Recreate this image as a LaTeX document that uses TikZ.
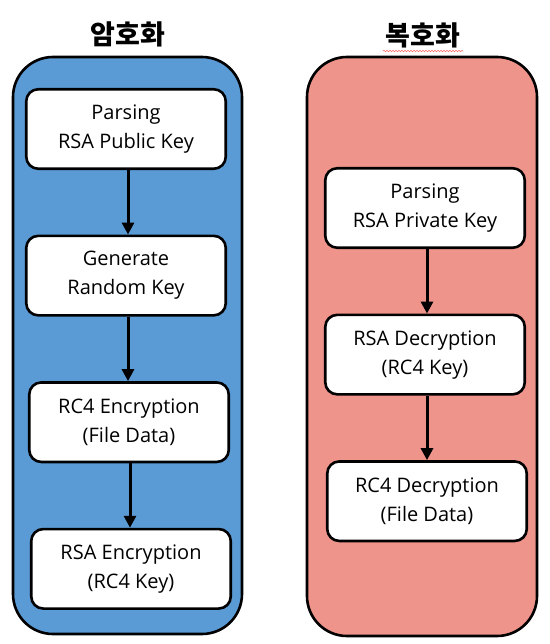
\documentclass[tikz,border=0pt]{standalone}
\usepackage{fontspec}
\setmainfont{Open Sans}
\newfontfamily\krfont{Noto Sans CJK KR}
\usetikzlibrary{positioning,arrows.meta,decorations.pathmorphing}
\definecolor{encblue}{HTML}{5B9BD5}
\definecolor{decred}{HTML}{EF948B}
\tikzset{
  stepbox/.style={draw=black,line width=2.6pt,fill=white,rounded corners=12pt,
    minimum width=199.5pt,minimum height=79.5pt,align=center,
    font=\fontsize{20}{29}\selectfont},
  panel/.style={draw=black,line width=2.6pt,rounded corners=40pt},
  title/.style={font=\krfont\bfseries\fontsize{27}{30}\selectfont},
  flow/.style={-{Triangle[length=12pt,width=12pt]},line width=3pt}
}

\begin{document}
\begin{tikzpicture}[x=1pt,y=-1pt]
                   \useasboundingbox (0,0) rectangle (549,644);
                   \draw[panel,fill=encblue] (13,57) rectangle (242,634);
                   \draw[panel,fill=decred] (307,57) rectangle (537,636);
                   \node[title] (enc) at (128,34) {암호화};
                   \node[title] (dec) at (423,35) {복호화};
                   \draw[red!60,line width=0.6pt,decorate,decoration={snake,amplitude=0.7pt,segment length=3pt}]
                        ([xshift=-40pt,yshift=-16pt]dec.center) -- ([xshift=40pt,yshift=-16pt]dec.center);
                   \node[stepbox] (enc_1) at (126,129) {Parsing\\RSA Public Key};
                   \node[stepbox] (enc_2) [below=64.5pt of enc_1] {Generate\\Random Key};
                   \node[stepbox] (enc_3) [below=64.5pt of enc_2,xshift=3pt] {RC4 Encryption\\(File Data)};
                   \node[stepbox] (enc_4) [below=64.5pt of enc_3,xshift=2pt] {RSA Encryption\\(RC4 Key)};
                   \node[stepbox] (dec_1) at (425,208) {Parsing\\RSA Private Key};
                   \node[stepbox] (dec_2) [below=64.5pt of dec_1] {RSA Decryption\\(RC4 Key)};
                   \node[stepbox] (dec_3) [below=64.5pt of dec_2,xshift=2pt] {RC4 Decryption\\(File Data)};
                    \path[flow]
                    ([xshift=2pt]enc_1.south) edge ([xshift=2pt]enc_1.south |- enc_2.north)
                    ([xshift=2pt]enc_2.south) edge ([xshift=2pt]enc_2.south |- enc_3.north)
                    ([xshift=1pt]enc_3.south) edge ([xshift=1pt]enc_3.south |- enc_4.north)
                    ([xshift=2pt]dec_1.south) edge ([xshift=2pt]dec_1.south |- dec_2.north)
                    ([xshift=2pt]dec_2.south) edge ([xshift=2pt]dec_2.south |- dec_3.north)
                    ;
                \end{tikzpicture}
\end{document}
